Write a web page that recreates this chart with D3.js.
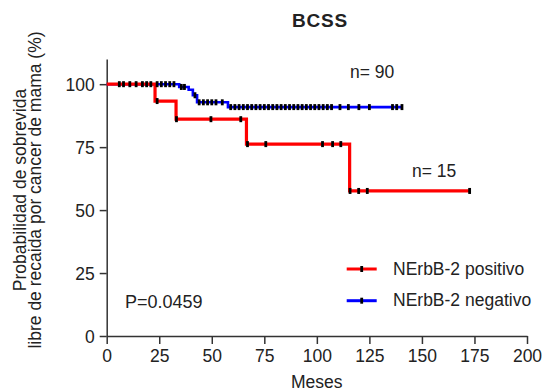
<!DOCTYPE html>
<html>
<head>
<meta charset="utf-8">
<script src="https://cdn.jsdelivr.net/npm/d3@7"></script>
<style>
  html, body { margin: 0; padding: 0; background: #fff; }
  svg { display: block; }
  text { font-family: "Liberation Sans", Arial, sans-serif; fill: #222; }
</style>
</head>
<body>
<svg id="chart" width="543" height="392"></svg>
<script>
// ---- data ----
const xTicks = [0, 25, 50, 75, 100, 125, 150, 175, 200];
const yTicks = [0, 25, 50, 75, 100];

// NErbB-2 positivo (n=15): step start times and survival levels
const posTimes = [0, 23, 33, 66.5, 115.6];
const posSurv = [100, 93.3, 86.1, 76.2, 57.6];
const posEnd = 172.7;
const posCensor = [24, 33.2, 49.6, 63.8, 67, 75.7, 102.7, 107.5, 111.4, 115.8, 119.9, 124, 172.7];

// NErbB-2 negativo (n=90)
const negTimes = [0, 34.5, 39, 41, 43, 57.7];
const negSurv = [100, 98.9, 97.8, 95.6, 92.8, 90.9];
const negEnd = 141;
const negCensor = [6, 8, 11, 14, 17, 19, 21, 24, 26, 28, 30, 32, 35.5, 37, 42, 44, 46, 48, 50, 52, 55,
  59, 61, 63, 65, 67, 69, 71, 73, 75, 77, 79, 81, 83, 85, 87, 89, 91, 93, 95, 97, 99, 101, 103, 105, 107,
  111, 115, 120, 125, 136, 138, 140.5];

const seriesNames = ["NErbB-2 positivo", "NErbB-2 negativo"];
const colors = ["#ff0000", "#0000ff"];

// ---- chart ----
const svg = d3.select("#chart");
const x = d3.scaleLinear().domain([0, 200]).range([106.7, 527]);
const y = d3.scaleLinear().domain([0, 110]).range([336, 59]);

function stepPoints(times, surv, end) {
  const pts = times.map((t, i) => [t, surv[i]]);
  pts.push([end, surv[surv.length - 1]]);
  return pts;
}
function survAt(times, surv, t) {
  let v = surv[0];
  for (let i = 0; i < times.length; i++) if (t >= times[i]) v = surv[i];
  return v;
}
const line = d3.line().x(d => x(d[0])).y(d => y(d[1])).curve(d3.curveStepAfter);

// axes
const axisColor = "#333";
const yAxis = svg.append("g").attr("transform", `translate(${x(0)},0)`)
  .call(d3.axisLeft(y).tickValues(yTicks).tickSize(7).tickPadding(5).tickSizeOuter(0));
const xAxis = svg.append("g").attr("transform", `translate(0,${y(0)})`)
  .call(d3.axisBottom(x).tickValues(xTicks).tickSize(8).tickPadding(6).tickSizeOuter(0));
[xAxis, yAxis].forEach(g => {
  g.select(".domain").attr("stroke", axisColor).attr("stroke-width", 1.5);
  g.selectAll(".tick line").attr("stroke", axisColor).attr("stroke-width", 1.5);
  g.selectAll(".tick text").attr("fill", "#222").style("font-size", "17.5px")
    .style("font-family", '"Liberation Sans", Arial, sans-serif');
});
yAxis.selectAll(".tick text").attr("dy", "0.36em");

// curves: blue first, red on top
const series = [
  { times: negTimes, surv: negSurv, end: negEnd, cens: negCensor, color: colors[1], w: 2.6 },
  { times: posTimes, surv: posSurv, end: posEnd, cens: posCensor, color: colors[0], w: 3.2 }
];
series.forEach(s => {
  svg.append("path").datum(stepPoints(s.times, s.surv, s.end))
    .attr("d", line).attr("fill", "none").attr("stroke", s.color).attr("stroke-width", s.w);
});
series.forEach(s => {
  svg.append("g").selectAll("rect").data(s.cens).join("rect")
    .attr("x", d => x(d) - 1.4).attr("y", d => y(survAt(s.times, s.surv, d)) - 3)
    .attr("width", 2.8).attr("height", 6).attr("fill", "#000");
});

// title and annotations
svg.append("text").attr("x", 320).attr("y", 26.5).attr("text-anchor", "middle")
  .style("font-size", "19px").style("font-weight", "bold").style("letter-spacing", "0.8px").text("BCSS");
svg.append("text").attr("x", 350).attr("y", 78).style("font-size", "17.5px").text("n= 90");
svg.append("text").attr("x", 412).attr("y", 176.5).style("font-size", "17.5px").text("n= 15");
svg.append("text").attr("x", 125).attr("y", 308).style("font-size", "18px").text("P=0.0459");
svg.append("text").attr("x", 316.7).attr("y", 387.5).attr("text-anchor", "middle")
  .style("font-size", "17.5px").text("Meses");

// y title
const yt = svg.append("text").attr("transform", "translate(0,190) rotate(-90)")
  .attr("text-anchor", "middle").style("font-size", "17.5px");
yt.append("tspan").attr("x", 0).attr("y", 25.5).text("Probabilidad de sobrevida");
yt.append("tspan").attr("x", 0).attr("y", 41).text("libre de recaida por cancer de mama (%)");

// legend
const legY = [269, 300.7];
seriesNames.forEach((name, i) => {
  const g = svg.append("g");
  g.append("line").attr("x1", 346.7).attr("x2", 376.7).attr("y1", legY[i]).attr("y2", legY[i])
    .attr("stroke", colors[i]).attr("stroke-width", 3);
  g.append("rect").attr("x", 361.7 - 1.4).attr("y", legY[i] - 3).attr("width", 2.8).attr("height", 6).attr("fill", "#000");
  g.append("text").attr("x", 393).attr("y", legY[i] + 5.5).style("font-size", "17.5px").text(name);
});
</script>
</body>
</html>
